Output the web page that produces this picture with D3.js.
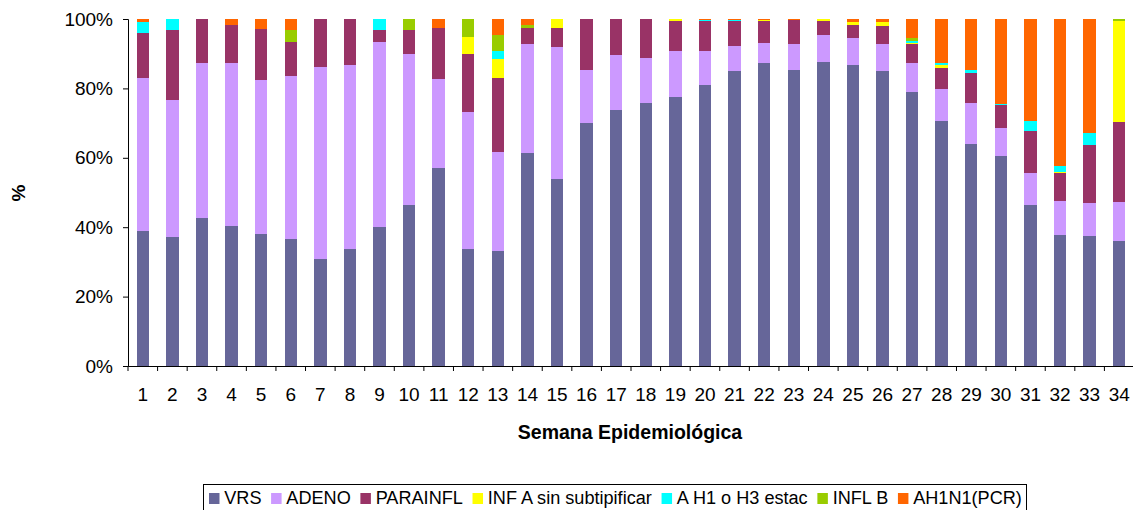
<!DOCTYPE html>
<html>
<head>
<meta charset="utf-8">
<script src="https://cdn.jsdelivr.net/npm/d3@7"></script>
<style>
  body { margin: 0; background: #fff; }
  svg { display: block; font-family: "Liberation Sans", Arial, sans-serif; }
</style>
</head>
<body>
<div id="chart"></div>
<script>
const weeks = d3.range(1, 35).map(String);
const seriesNames = ["VRS", "ADENO", "PARAINFL", "INF A sin subtipificar", "A H1 o H3 estac", "INFL B", "AH1N1(PCR)"];
const colors = ["#666699", "#CC99FF", "#993366", "#FFFF00", "#00FFFF", "#99CC00", "#FF6600"];
const yTicks = [0, 0.2, 0.4, 0.6, 0.8, 1];

const vrs = [39.0, 37.2, 42.7, 40.4, 38.1, 36.7, 30.9, 33.8, 40.1, 46.5, 57.1, 33.8, 33.2, 61.5, 54.0, 70.1, 73.9, 75.9, 77.6, 81.1, 85.1, 87.2, 85.4, 87.7, 86.6, 85.1, 79.1, 70.7, 64.1, 60.6, 46.5, 37.8, 37.5, 36.1];
const adeno = [44.1, 39.6, 44.5, 47.0, 44.2, 46.8, 55.4, 52.8, 53.4, 43.5, 25.7, 39.5, 28.6, 31.4, 37.8, 15.3, 15.6, 13.0, 13.3, 9.8, 7.0, 6.0, 7.5, 7.8, 7.8, 7.8, 8.1, 9.0, 11.8, 8.1, 9.2, 9.8, 9.5, 11.2];
const parainfl = [13.0, 19.9, 12.8, 11.0, 14.7, 10.0, 13.7, 13.4, 3.2, 6.7, 14.5, 16.7, 21.3, 4.6, 5.5, 14.6, 10.5, 11.1, 8.5, 8.4, 7.2, 6.1, 6.7, 3.8, 4.0, 5.2, 5.7, 6.3, 8.5, 6.6, 12.1, 8.1, 16.8, 23.1];
const infA = [0, 0, 0, 0, 0, 0, 0, 0, 0, 0, 0, 4.9, 5.3, 0, 2.7, 0, 0, 0, 0.6, 0, 0, 0.3, 0, 0.7, 0.6, 0.9, 0.3, 0.6, 0, 0, 0, 0.3, 0, 28.9];
const ah1h3 = [2.9, 3.3, 0, 0, 0, 0, 0, 0, 3.3, 0, 0, 0, 2.3, 0, 0, 0, 0, 0, 0, 0.3, 0.3, 0, 0, 0, 0, 0, 0.6, 0.8, 1.0, 0.3, 2.9, 1.7, 3.4, 0];
const inflB = [0, 0, 0, 0, 0, 3.2, 0, 0, 0, 3.3, 0, 5.1, 4.8, 0.9, 0, 0, 0, 0, 0, 0, 0, 0, 0, 0, 0, 0, 0.6, 0, 0, 0, 0, 0, 0, 0.7];
const ah1n1 = [1.0, 0, 0, 1.6, 3.0, 3.3, 0, 0, 0, 0, 2.7, 0, 4.5, 1.6, 0, 0, 0, 0, 0, 0.4, 0.4, 0.4, 0.4, 0, 1.0, 1.0, 5.6, 12.6, 14.6, 24.4, 29.3, 42.6, 32.8, 0];

const seriesValues = [vrs, adeno, parainfl, infA, ah1h3, inflB, ah1n1];

const rows = weeks.map((w, i) => {
    const row = { week: w };
    seriesNames.forEach((s, j) => row[s] = seriesValues[j][i]);
    return row;
});

const width = 1133, height = 510;
const plotLeft = 128, plotRight = 1134, plotTop = 19, plotBottom = 366;

const svg = d3.select("#chart").append("svg")
    .attr("width", width)
    .attr("height", height);

const x = d3.scaleBand()
    .domain(weeks)
    .range([plotLeft, plotRight])
    .paddingInner(0.58)
    .paddingOuter(0.29);

const y = d3.scaleLinear()
    .domain([0, 1])
    .range([plotBottom, plotTop]);

const stacked = d3.stack()
    .keys(seriesNames)
    .offset(d3.stackOffsetExpand)(rows);

svg.append("g")
    .selectAll("g")
    .data(stacked)
    .join("g")
    .attr("fill", (d, i) => colors[i])
    .selectAll("rect")
    .data(d => d)
    .join("rect")
    .attr("x", d => x(d.data.week))
    .attr("y", d => y(d[1]))
    .attr("width", x.bandwidth())
    .attr("height", d => Math.max(0, y(d[0]) - y(d[1])))
    .attr("shape-rendering", "crispEdges");

// y axis
const yAxis = svg.append("g")
    .attr("transform", `translate(${plotLeft},0)`)
    .call(d3.axisLeft(y).tickValues(yTicks).tickFormat(d3.format(".0%")).tickSize(5).tickPadding(10));
yAxis.select(".domain").attr("stroke", "#000");
yAxis.selectAll("line").attr("stroke", "#000");
yAxis.selectAll("text").attr("font-size", 19).attr("fill", "#000")
    .attr("font-family", "Liberation Sans, Arial, sans-serif");

// x axis
const xAxis = svg.append("g")
    .attr("transform", `translate(0,${plotBottom})`)
    .call(d3.axisBottom(x).tickSize(0).tickPadding(22));
xAxis.select(".domain").attr("stroke", "#000");
xAxis.selectAll("text").attr("font-size", 19).attr("fill", "#000")
    .attr("font-family", "Liberation Sans, Arial, sans-serif");

// tick marks between categories
xAxis.append("g")
    .selectAll("line")
    .data(d3.range(weeks.length + 1))
    .join("line")
    .attr("x1", i => plotLeft + i * x.step())
    .attr("x2", i => plotLeft + i * x.step())
    .attr("y1", 0)
    .attr("y2", 5)
    .attr("stroke", "#000");

svg.append("text")
    .attr("x", 630)
    .attr("y", 439)
    .attr("text-anchor", "middle")
    .attr("font-size", 19.5)
    .attr("font-weight", "bold")
    .text("Semana Epidemiológica");

svg.append("text")
    .attr("transform", "translate(25,193) rotate(-90)")
    .attr("text-anchor", "middle")
    .attr("font-size", 19)
    .attr("font-weight", "bold")
    .text("%");

// legend
svg.append("rect")
    .attr("x", 203.5)
    .attr("y", 484.5)
    .attr("width", 823)
    .attr("height", 40)
    .attr("fill", "#fff")
    .attr("stroke", "#000");

const legend = svg.append("g");
let cx = 0;
seriesNames.forEach((s, i) => {
    legend.append("rect")
        .attr("x", cx)
        .attr("y", -11)
        .attr("width", 11)
        .attr("height", 11)
        .attr("fill", colors[i]);
    const t = legend.append("text")
        .attr("x", cx + 16)
        .attr("y", 0)
        .attr("font-size", 19)
        .text(s);
    cx += 16 + t.node().getComputedTextLength() + 10;
});
const natural = cx - 10;
const sx = (1022 - 209) / natural;
legend.attr("transform", `translate(209,504) scale(${sx},1)`);
</script>
</body>
</html>
